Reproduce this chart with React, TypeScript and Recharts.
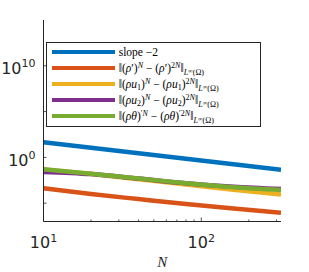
import React from 'react';
import { LineChart, Line, XAxis, YAxis, Legend } from 'recharts';

// ---- data ----
const N = [10, 20, 40, 80, 160, 320];
const slopeRef = [45, 11, 2.8, 0.7, 0.18, 0.044];
const errRho = [4.3e-4, 1.0e-4, 2.8e-5, 8.1e-6, 2.6e-6, 9.1e-7];
const errRhoU1 = [0.047, 0.015, 4.2e-3, 1.1e-3, 3.0e-4, 9.1e-5];
const errRhoU2 = [0.026, 0.015, 4.9e-3, 1.5e-3, 6.2e-4, 3.5e-4];
const errRhoTheta = [0.05, 0.016, 5.0e-3, 1.5e-3, 5.5e-4, 2.8e-4];

const xMajorTicks = [10, 100];
const xMinorTicks = [20, 30, 40, 50, 60, 70, 80, 90, 200, 300];
const yTicks = [1e-5, 1, 1e5, 1e10];
const yLabeledTicks = [1, 1e10];
const xDomain = [10, 320];
const yDomain = [1e-7, 1e15];
const xLabel = 'N';

const seriesKeys = ['slope', 'rho', 'rhoU1', 'rhoU2', 'rhoTheta'];
const seriesNames = [
  'slope −2',
  '‖(ρ′)^N − (ρ′)^{2N}‖_{L^∞(Ω)}',
  '‖(ρu₁)^N − (ρu₁)^{2N}‖_{L^∞(Ω)}',
  '‖(ρu₂)^N − (ρu₂)^{2N}‖_{L^∞(Ω)}',
  '‖(ρθ)′^N − (ρθ)′^{2N}‖_{L^∞(Ω)}',
];
const seriesColors = ['#0072BD', '#D95319', '#EDB120', '#7E2F8E', '#77AC30'];
const seriesValues = [slopeRef, errRho, errRhoU1, errRhoU2, errRhoTheta];

const data = N.map((n, i) => {
  const row: any = { N: n };
  seriesKeys.forEach((k, j) => {
    row[k] = seriesValues[j][i];
  });
  return row;
});

const xTicks = [...xMajorTicks, ...xMinorTicks].sort((a, b) => a - b);

const axisColor = '#262626';
const tickFont = '"DejaVu Sans", sans-serif';
const legendFont = '"Liberation Serif", "DejaVu Serif", serif';
const exp = (v: number) => String(Math.round(Math.log10(v)));

const BottomTick = (props: any) => {
  const { x, y, payload } = props;
  const v = payload.value;
  const major = xMajorTicks.includes(v);
  return (
    <g>
      <line x1={x} x2={x} y1={y} y2={y - (major ? 4 : 2)} stroke={axisColor} strokeWidth={0.8} />
      {major && (
        <text x={x} y={y + 26} textAnchor="middle" fill={axisColor} fontFamily={tickFont} fontSize={16}>
          10
          <tspan dy={-6} fontSize={11}>{exp(v)}</tspan>
        </text>
      )}
    </g>
  );
};

const TopTick = (props: any) => {
  const { x, y, payload } = props;
  const major = xMajorTicks.includes(payload.value);
  return <line x1={x} x2={x} y1={y} y2={y + (major ? 4 : 2)} stroke={axisColor} strokeWidth={0.8} />;
};

const LeftTick = (props: any) => {
  const { x, y, payload } = props;
  const v = payload.value;
  const labeled = yLabeledTicks.includes(v);
  return (
    <g>
      <line x1={x} x2={x + 3} y1={y} y2={y} stroke={axisColor} strokeWidth={0.8} />
      {labeled && (
        <text x={x - 8} y={y + 8.6} textAnchor="end" fill={axisColor} fontFamily={tickFont} fontSize={16}>
          10
          <tspan dy={-7} fontSize={11}>{exp(v)}</tspan>
        </text>
      )}
    </g>
  );
};

const RightTick = (props: any) => {
  const { x, y } = props;
  return <line x1={x} x2={x - 3} y1={y} y2={y} stroke={axisColor} strokeWidth={0.8} />;
};

const supS: React.CSSProperties = { fontSize: '0.7em', verticalAlign: '0.5em', lineHeight: 0 };
const subS: React.CSSProperties = { fontSize: '0.7em', verticalAlign: '-0.3em', lineHeight: 0 };
const supInSub: React.CSSProperties = { fontSize: '0.8em', verticalAlign: '0.35em', lineHeight: 0 };
const normSub: React.CSSProperties = { fontSize: '0.7em', verticalAlign: '-0.45em', lineHeight: 0 };

const Norm = () => (
  <span style={normSub}>
    <i>L</i>
    <span style={supInSub}>∞</span>(Ω)
  </span>
);

const rho = <i>ρ</i>;

const renderLabel = (key: string, name: string) => {
  switch (key) {
    case 'rho':
      return (
        <>‖({rho}′)<span style={supS}><i>N</i></span> − ({rho}′)<span style={supS}>2<i>N</i></span>‖<Norm /></>
      );
    case 'rhoU1':
    case 'rhoU2': {
      const idx = key === 'rhoU1' ? '1' : '2';
      const u = (
        <>
          {rho}<i>u</i><span style={subS}>{idx}</span>
        </>
      );
      return (
        <>‖({u})<span style={supS}><i>N</i></span> − ({u})<span style={supS}>2<i>N</i></span>‖<Norm /></>
      );
    }
    case 'rhoTheta':
      return (
        <>‖({rho}<i>θ</i>)<span style={supS}>′<i>N</i></span> − ({rho}<i>θ</i>)<span style={supS}>′2<i>N</i></span>‖<Norm /></>
      );
    default:
      return <>{name}</>;
  }
};

const LegendBox = (props: any) => {
  const payload = [...(props.payload || [])].sort(
    (a: any, b: any) => seriesKeys.indexOf(a.dataKey) - seriesKeys.indexOf(b.dataKey)
  );
  return (
    <div
      style={{
        position: 'relative',
        border: `1px solid ${axisColor}`,
        background: '#fff',
        width: 213,
        height: 82.6,
        paddingTop: 1,
        boxSizing: 'content-box',
        fontFamily: legendFont,
        fontSize: 11.5,
        color: '#000',
      }}
    >
      {payload.map((p: any) => (
        <div key={p.dataKey} style={{ position: 'relative', height: 16, whiteSpace: 'nowrap' }}>
          <svg width={63} height={4} style={{ position: 'absolute', left: 5, top: 6 }}>
            <rect x={0} y={0} width={63} height={4} fill={p.color} />
          </svg>
          <span style={{ position: 'absolute', left: 71.7, top: 0, lineHeight: '16px' }}>
            {renderLabel(p.dataKey, p.value)}
          </span>
        </div>
      ))}
    </div>
  );
};

export default function App() {
  return (
    <div style={{ position: 'absolute', left: 0, top: 0, width: 309, height: 272, background: '#fff' }}>
      <LineChart width={309} height={272} data={data} margin={{ top: 20, right: 28, left: 0, bottom: 20.5 }}>
        <XAxis
          dataKey="N"
          type="number"
          scale="log"
          domain={xDomain}
          allowDataOverflow
          ticks={xTicks}
          interval={0}
          tick={<BottomTick />}
          tickLine={false}
          tickSize={0}
          tickMargin={0}
          height={30}
          axisLine={{ stroke: axisColor, strokeWidth: 1 }}
          label={(p: any) => {
            const vb = p.viewBox || {};
            return (
              <text
                x={vb.x + vb.width / 2}
                y={vb.y + 45}
                textAnchor="middle"
                fontFamily={legendFont}
                fontStyle="italic"
                fontSize={15}
                fill={axisColor}
              >
                {xLabel}
              </text>
            );
          }}
        />
        <XAxis
          xAxisId="top"
          orientation="top"
          dataKey="N"
          type="number"
          scale="log"
          domain={xDomain}
          allowDataOverflow
          ticks={xTicks}
          interval={0}
          tick={<TopTick />}
          tickLine={false}
          tickSize={0}
          tickMargin={0}
          height={0}
          axisLine={{ stroke: axisColor, strokeWidth: 1 }}
        />
        <YAxis
          type="number"
          scale="log"
          domain={yDomain}
          allowDataOverflow
          ticks={yTicks}
          interval={0}
          tick={<LeftTick />}
          tickLine={false}
          tickSize={0}
          tickMargin={0}
          width={43.5}
          axisLine={{ stroke: axisColor, strokeWidth: 1 }}
        />
        <YAxis
          yAxisId="right"
          orientation="right"
          type="number"
          scale="log"
          domain={yDomain}
          allowDataOverflow
          ticks={yTicks}
          interval={0}
          tick={<RightTick />}
          tickLine={false}
          tickSize={0}
          tickMargin={0}
          width={0}
          axisLine={{ stroke: axisColor, strokeWidth: 1 }}
        />
        {seriesKeys.map((k, j) => (
          <Line
            key={k}
            dataKey={k}
            name={seriesNames[j]}
            stroke={seriesColors[j]}
            strokeWidth={4.5}
            type={j === 0 ? 'linear' : 'monotone'}
            dot={false}
            activeDot={false}
            isAnimationActive={false}
          />
        ))}
        <Legend
          layout="vertical"
          align="center"
          verticalAlign="middle"
          itemSorter={null as any}
          content={<LegendBox />}
          wrapperStyle={{ left: 46, top: 41.7, width: 'auto', height: 'auto' }}
        />
      </LineChart>
    </div>
  );
}
